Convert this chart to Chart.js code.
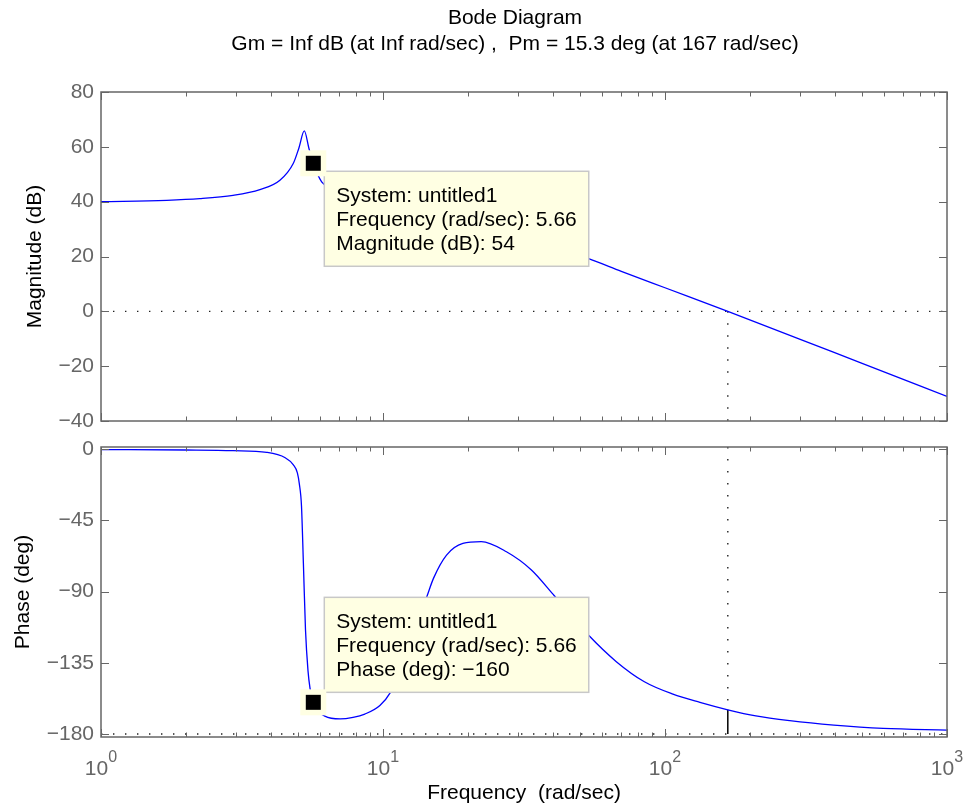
<!DOCTYPE html>
<html>
<head>
<meta charset="utf-8">
<title>Bode Diagram</title>
<script src="https://cdn.jsdelivr.net/npm/chart.js@4.4.1/dist/chart.umd.min.js"></script>
<style>
  html, body { margin: 0; padding: 0; background: #fff; }
  #wrap { position: relative; width: 967px; height: 809px; }
  #wrap canvas { position: absolute; left: 0; }
  #magCanvas { top: 0; }
  #phaseCanvas { top: 434px; }
</style>
</head>
<body>
<div id="wrap">
  <canvas id="magCanvas" width="967" height="434" style="width:967px;height:434px"></canvas>
  <canvas id="phaseCanvas" width="967" height="375" style="width:967px;height:375px"></canvas>
</div>
<script>
const FONT = '"Liberation Sans", Arial, Helvetica, sans-serif';
const GRAY = '#666666';
const TIP_FILL = '#ffffe3';

// frequency response (rad/sec, dB, deg)
const magFreq = [1, 1.71, 2.24, 2.94, 3.66, 4.31, 4.81, 5.03, 5.26, 5.46, 5.66, 6.06, 6.5, 7, 8, 10, 12, 15, 20, 30, 40, 53.3, 70, 100, 167, 300, 500, 1000];
const magDb = [40, 40.5, 41.1, 42.3, 44.4, 47.8, 54, 59.5, 65.8, 59.5, 54, 47.2, 45.2, 43.8, 40.9, 37.5, 35.4, 33.3, 30.9, 27, 23.5, 19.3, 14.6, 8.6, 0, -10.1, -19, -31];

const phaseFreq = [1, 2, 2.94, 3.87, 4.5, 4.81, 4.97, 5.05, 5.14, 5.22, 5.31, 5.42, 5.51, 5.66, 6.22, 7.05, 7.83, 8.62, 9.75, 10.6, 11.5, 12.5, 13.4, 14.3, 15.1, 16.8, 19.2, 22.3, 27.4, 33.6, 40.5, 53.5, 67.2, 84.5, 106.7, 133, 167, 210, 277, 397, 594, 1000];
const phaseDeg = [-0.3, -0.6, -1, -2.1, -5.5, -10, -15, -22, -36, -72, -114, -140, -151, -160, -168.7, -170.5, -169.5, -167.4, -162, -154, -140, -122, -107, -93.3, -81.7, -67, -59.6, -58.5, -64.9, -76.4, -92.7, -117.5, -134.3, -147, -154.8, -160, -164.7, -168.6, -171.6, -174.4, -176.5, -177.5];

const magTicks = [80, 60, 40, 20, 0, -20, -40];
const phaseTicks = [0, -45, -90, -135, -180];
const decades = [1, 10, 100, 1000];
const decadeExp = ['0', '1', '2', '3'];

const tipFreq = 5.66;
const tipMag = 54;
const tipPhase = -160;
const crossFreq = 167;
const phaseMargin = 15.3;

const titleLines = ['Bode Diagram', 'Gm = Inf dB (at Inf rad/sec) ,  Pm = 15.3 deg (at 167 rad/sec)'];

const minorTicks = decades.slice(0, -1).flatMap(b => [2, 3, 4, 5, 6, 7, 8, 9].map(k => k * b));

function fmtTick(v) {
    return v < 0 ? '\u2212' + Math.abs(v) : String(v);
}

function toPoints(xs, ys) {
    return xs.map((x, i) => ({ x: x, y: ys[i] }));
}

function dottedLine(ctx, x1, y1, x2, y2) {
    ctx.save();
    ctx.strokeStyle = '#222';
    ctx.lineWidth = 1.4;
    ctx.setLineDash([1.4, 10.6]);
    ctx.beginPath();
    ctx.moveTo(x1, y1);
    ctx.lineTo(x2, y2);
    ctx.stroke();
    ctx.restore();
}

function drawTip(chart, xv, yv, lines, below) {
    const { ctx } = chart;
    const { x, y } = chart.scales;
    const px = x.getPixelForValue(xv);
    const py = y.getPixelForValue(yv);

    ctx.save();
    ctx.font = `21px ${FONT}`;
    const w = Math.max(...lines.map(t => ctx.measureText(t).width)) + 24;
    const h = 95;
    const bx = px + 11;
    const by = below ? py + 8 : py - 10 - h;
    ctx.fillStyle = TIP_FILL;
    ctx.fillRect(bx, by, w, h);
    ctx.strokeStyle = '#c8c8c8';
    ctx.lineWidth = 1.5;
    ctx.strokeRect(bx, by, w, h);

    ctx.fillStyle = '#000';
    ctx.textAlign = 'left';
    ctx.textBaseline = 'middle';
    lines.forEach((t, i) => ctx.fillText(t, bx + 12, by + 25 + i * 24));

    // marker
    ctx.fillStyle = TIP_FILL;
    ctx.fillRect(px - 13, py - 13, 26, 26);
    ctx.fillStyle = '#000';
    ctx.fillRect(px - 7.5, py - 7.5, 15, 15);
    ctx.restore();
}

function bodeAxes(cfg) {
    return {
        id: 'bodeAxes',
        beforeDatasetsDraw(chart) {
            const { ctx } = chart;
            const { x, y } = chart.scales;
            const a = chart.chartArea;
            cfg.hLines.forEach(v => {
                const py = y.getPixelForValue(v);
                dottedLine(ctx, a.left, py, a.right, py);
            });
            const px = x.getPixelForValue(crossFreq);
            dottedLine(ctx, px, y.getPixelForValue(cfg.vLine[0]), px, y.getPixelForValue(cfg.vLine[1]));
            if (cfg.solid) {
                ctx.save();
                ctx.strokeStyle = '#000';
                ctx.lineWidth = 1.5;
                ctx.beginPath();
                ctx.moveTo(px, y.getPixelForValue(cfg.solid[0]));
                ctx.lineTo(px, y.getPixelForValue(cfg.solid[1]));
                ctx.stroke();
                ctx.restore();
            }
        },
        afterDatasetsDraw(chart) {
            const { ctx } = chart;
            const { x, y } = chart.scales;
            const a = chart.chartArea;

            ctx.save();
            // box and inward ticks
            ctx.strokeStyle = GRAY;
            ctx.lineWidth = 1.5;
            ctx.strokeRect(a.left, a.top, a.right - a.left, a.bottom - a.top);
            ctx.lineWidth = 1;
            ctx.beginPath();
            decades.forEach(v => {
                const px = Math.round(x.getPixelForValue(v)) + 0.5;
                ctx.moveTo(px, a.bottom); ctx.lineTo(px, a.bottom - 8);
                ctx.moveTo(px, a.top); ctx.lineTo(px, a.top + 8);
            });
            minorTicks.forEach(v => {
                const px = Math.round(x.getPixelForValue(v)) + 0.5;
                ctx.moveTo(px, a.bottom); ctx.lineTo(px, a.bottom - 4.5);
                ctx.moveTo(px, a.top); ctx.lineTo(px, a.top + 4.5);
            });
            cfg.yTicks.forEach(v => {
                const py = Math.round(y.getPixelForValue(v)) + 0.5;
                ctx.moveTo(a.left, py); ctx.lineTo(a.left + 8, py);
                ctx.moveTo(a.right, py); ctx.lineTo(a.right - 8, py);
            });
            ctx.stroke();

            // y tick labels
            ctx.font = `21px ${FONT}`;
            ctx.fillStyle = GRAY;
            ctx.textAlign = 'right';
            ctx.textBaseline = 'middle';
            let labelLeft = a.left;
            cfg.yTicks.forEach(v => {
                const txt = fmtTick(v);
                ctx.fillText(txt, a.left - 7, y.getPixelForValue(v));
                labelLeft = Math.min(labelLeft, a.left - 7 - ctx.measureText(txt).width);
            });

            // y title
            ctx.save();
            ctx.translate(labelLeft - 23.5, (a.top + a.bottom) / 2);
            ctx.rotate(-Math.PI / 2);
            ctx.fillStyle = '#000';
            ctx.textAlign = 'center';
            ctx.fillText(cfg.yTitle, 0, 0);
            ctx.restore();

            if (cfg.xTitle) {
                ctx.textAlign = 'left';
                ctx.textBaseline = 'alphabetic';
                decades.forEach((v, i) => {
                    const px = x.getPixelForValue(v);
                    ctx.font = `21px ${FONT}`;
                    const wBase = ctx.measureText('10').width;
                    ctx.font = `16px ${FONT}`;
                    const wExp = ctx.measureText(decadeExp[i]).width;
                    const left = px - (wBase + wExp) / 2;
                    ctx.font = `21px ${FONT}`;
                    ctx.fillText('10', left, a.bottom + 38);
                    ctx.font = `16px ${FONT}`;
                    ctx.fillText(decadeExp[i], left + wBase, a.bottom + 25);
                });
                ctx.font = `21px ${FONT}`;
                ctx.fillStyle = '#000';
                ctx.textAlign = 'center';
                ctx.textBaseline = 'middle';
                ctx.fillText(cfg.xTitle, (a.left + a.right) / 2, a.bottom + 56);
            }

            if (cfg.title) {
                ctx.font = `21px ${FONT}`;
                ctx.fillStyle = '#000';
                ctx.textAlign = 'center';
                ctx.textBaseline = 'middle';
                cfg.title.forEach((t, i) => ctx.fillText(t, 515, 18 + i * 26));
            }
            ctx.restore();

            drawTip(chart, tipFreq, cfg.tip[0], cfg.tip[1], cfg.tip[2]);
        }
    };
}

function makeChart(canvasId, points, yMin, yMax, padding, axesCfg) {
    return new Chart(document.getElementById(canvasId), {
        type: 'scatter',
        data: {
            datasets: [{
                data: points,
                showLine: true,
                borderColor: '#0000ff',
                borderWidth: 1.3,
                pointRadius: 0,
                cubicInterpolationMode: 'monotone',
                fill: false
            }]
        },
        options: {
            responsive: false,
            animation: false,
            events: [],
            layout: { padding: padding },
            plugins: {
                legend: { display: false },
                tooltip: { enabled: false }
            },
            scales: {
                x: { type: 'logarithmic', min: 1, max: 1000, display: false },
                y: { type: 'linear', min: yMin, max: yMax, display: false }
            }
        },
        plugins: [bodeAxes(axesCfg)]
    });
}

makeChart('magCanvas', toPoints(magFreq, magDb), -40, 80,
    { left: 101, right: 20, top: 92, bottom: 13 },
    {
        yTicks: magTicks,
        yTitle: 'Magnitude (dB)',
        hLines: [0],
        vLine: [0, -40],
        title: titleLines,
        tip: [tipMag, ['System: untitled1', `Frequency (rad/sec): ${tipFreq}`, `Magnitude (dB): ${tipMag}`], true]
    });

makeChart('phaseCanvas', toPoints(phaseFreq, phaseDeg), -181.9, 1.3,
    { left: 101, right: 20, top: 13, bottom: 72 },
    {
        yTicks: phaseTicks,
        yTitle: 'Phase (deg)',
        hLines: [-180],
        vLine: [1.3, -180 + phaseMargin],
        solid: [-180 + phaseMargin, -180],
        xTitle: 'Frequency  (rad/sec)',
        tip: [tipPhase, ['System: untitled1', `Frequency (rad/sec): ${tipFreq}`, `Phase (deg): ${fmtTick(tipPhase)}`], false]
    });
</script>
</body>
</html>
